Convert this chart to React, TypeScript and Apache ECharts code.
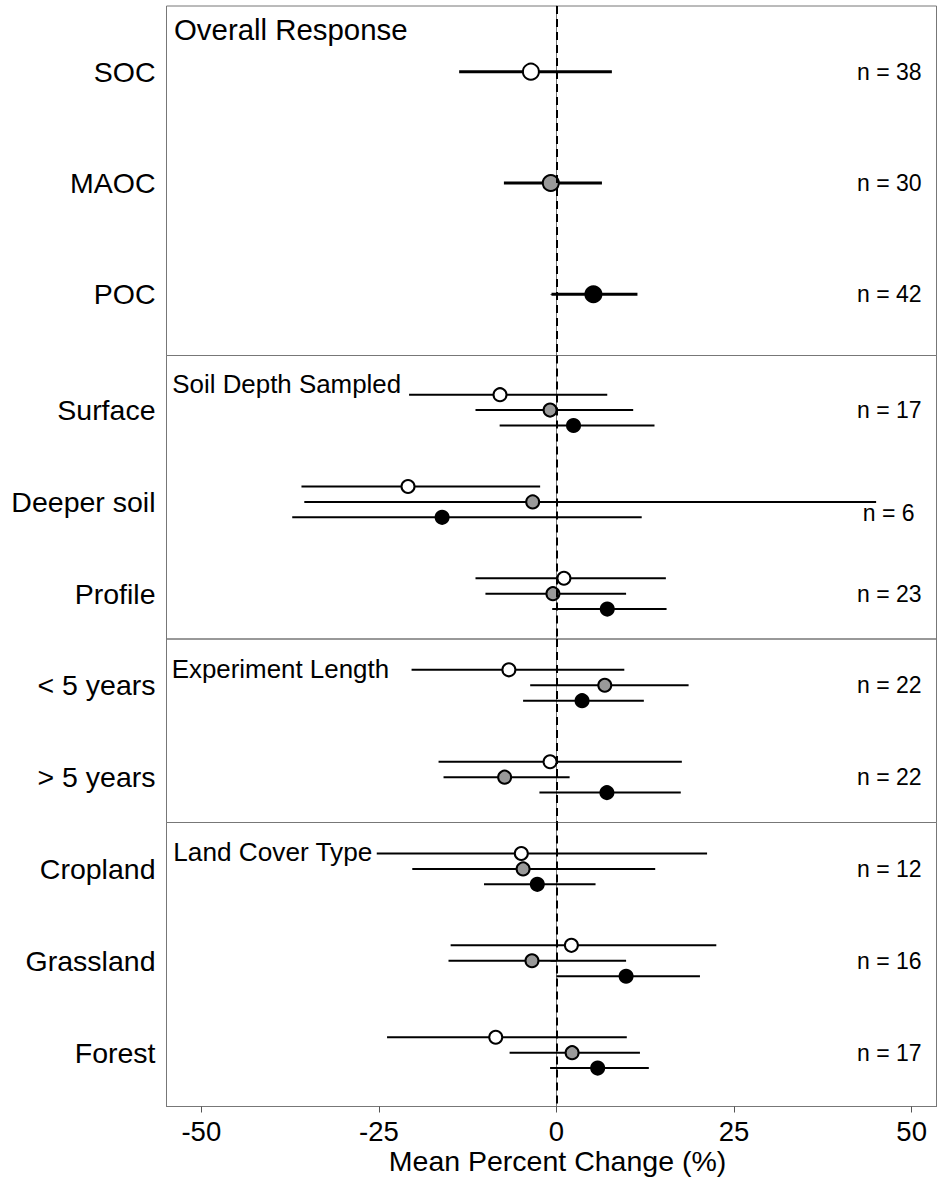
import React, { useEffect, useRef } from "react";
import * as echarts from "echarts";

// ---------- data ----------
const overallCats = ["SOC", "MAOC", "POC"];
const overallMean = [-3.6, -0.8, 5.2];
const overallLo = [-13.7, -7.4, -0.7];
const overallHi = [7.8, 6.4, 11.4];
const overallN = [38, 30, 42];

const depthCats = ["Surface", "Deeper soil", "Profile"];
const depthSOCMean = [-7.95, -20.9, 1.05];
const depthSOCLo = [-20.75, -35.9, -11.4];
const depthSOCHi = [7.15, -2.3, 15.4];
const depthMAOCMean = [-0.9, -3.35, -0.5];
const depthMAOCLo = [-11.4, -35.5, -10.0];
const depthMAOCHi = [10.8, 45.0, 9.8];
const depthPOCMean = [2.4, -16.1, 7.15];
const depthPOCLo = [-8.0, -37.2, -0.6];
const depthPOCHi = [13.8, 12.0, 15.5];
const depthN = [17, 6, 23];

const lengthCats = ["< 5 years", "> 5 years"];
const lengthSOCMean = [-6.7, -0.9];
const lengthSOCLo = [-20.4, -16.6];
const lengthSOCHi = [9.55, 17.65];
const lengthMAOCMean = [6.8, -7.3];
const lengthMAOCLo = [-3.7, -15.9];
const lengthMAOCHi = [18.6, 1.85];
const lengthPOCMean = [3.6, 7.1];
const lengthPOCLo = [-4.7, -2.4];
const lengthPOCHi = [12.3, 17.5];
const lengthN = [22, 22];

const coverCats = ["Cropland", "Grassland", "Forest"];
const coverSOCMean = [-4.95, 2.1, -8.55];
const coverSOCLo = [-25.3, -14.9, -23.85];
const coverSOCHi = [21.2, 22.5, 9.9];
const coverMAOCMean = [-4.7, -3.45, 2.2];
const coverMAOCLo = [-20.3, -15.2, -6.6];
const coverMAOCHi = [13.9, 9.8, 11.75];
const coverPOCMean = [-2.7, 9.8, 5.8];
const coverPOCLo = [-10.2, 0.0, -0.9];
const coverPOCHi = [5.5, 20.2, 13.0];
const coverN = [12, 16, 17];

const xTicks = [-50, -25, 0, 25, 50];
const panelTitles = ["Overall Response", "Soil Depth Sampled", "Experiment Length", "Land Cover Type"];

// ---------- style ----------
const FONT = "'Liberation Sans', Arial, sans-serif";
const FILL = { SOC: "#ffffff", MAOC: "#999999", POC: "#000000" };
const X_MIN = -54.9;
const X_MAX = 53.5;
const N_X = 51.4;
const DODGE = 0.168;

const grids = [
  { top: 6, height: 349.5, ymin: 0.41, ymax: 3.55 },
  { top: 355.5, height: 283.5, ymin: 0.405, ymax: 3.494 },
  { top: 639, height: 183.5, ymin: 0.497, ymax: 2.493 },
  { top: 822.5, height: 284, ymin: 0.495, ymax: 3.586 },
];

type Group = { key: "SOC" | "MAOC" | "POC"; mean: number[]; lo: number[]; hi: number[]; offset: number };

const panels: { cats: string[]; n: number[]; groups: Group[]; lw: number; size: number }[] = [
  { cats: overallCats, n: overallN, lw: 3, size: 16, groups: [] },
  {
    cats: depthCats,
    n: depthN,
    lw: 2,
    size: 13,
    groups: [
      { key: "SOC", mean: depthSOCMean, lo: depthSOCLo, hi: depthSOCHi, offset: -DODGE },
      { key: "MAOC", mean: depthMAOCMean, lo: depthMAOCLo, hi: depthMAOCHi, offset: 0 },
      { key: "POC", mean: depthPOCMean, lo: depthPOCLo, hi: depthPOCHi, offset: DODGE },
    ],
  },
  {
    cats: lengthCats,
    n: lengthN,
    lw: 2,
    size: 13,
    groups: [
      { key: "SOC", mean: lengthSOCMean, lo: lengthSOCLo, hi: lengthSOCHi, offset: -DODGE },
      { key: "MAOC", mean: lengthMAOCMean, lo: lengthMAOCLo, hi: lengthMAOCHi, offset: 0 },
      { key: "POC", mean: lengthPOCMean, lo: lengthPOCLo, hi: lengthPOCHi, offset: DODGE },
    ],
  },
  {
    cats: coverCats,
    n: coverN,
    lw: 2,
    size: 13,
    groups: [
      { key: "SOC", mean: coverSOCMean, lo: coverSOCLo, hi: coverSOCHi, offset: -DODGE },
      { key: "MAOC", mean: coverMAOCMean, lo: coverMAOCLo, hi: coverMAOCHi, offset: 0 },
      { key: "POC", mean: coverPOCMean, lo: coverPOCLo, hi: coverPOCHi, offset: DODGE },
    ],
  },
];

function buildOption() {
  const grid: any[] = [];
  const xAxis: any[] = [];
  const yAxis: any[] = [];
  const series: any[] = [];

  grids.forEach((g, p) => {
    grid.push({
      left: 166.5,
      right: 0.5,
      top: g.top,
      height: g.height,
      show: true,
      borderColor: "#777",
      borderWidth: 1,
      backgroundColor: "transparent",
    });
    const last = p === grids.length - 1;
    xAxis.push({
      type: "value",
      gridIndex: p,
      min: X_MIN,
      max: X_MAX,
      show: last,
      splitLine: { show: false },
      axisLine: { show: true, lineStyle: { color: "#777", width: 1 } },
      axisTick: { show: true, customValues: xTicks, length: 6, lineStyle: { color: "#555" } },
      axisLabel: {
        show: true,
        customValues: xTicks,
        fontSize: 27.5,
        fontFamily: FONT,
        color: "#000",
        margin: 11,
      },
      name: last ? "Mean Percent Change (%)" : "",
      nameLocation: "middle",
      nameGap: 40,
      nameTextStyle: { fontSize: 28.5, fontFamily: FONT, color: "#000", padding: [0, 0, 0, 12] },
    });
    const cats = panels[p].cats;
    const idx = cats.map((_, i) => i + 1);
    yAxis.push({
      type: "value",
      gridIndex: p,
      inverse: true,
      min: g.ymin,
      max: g.ymax,
      splitLine: { show: false },
      axisLine: { show: true, lineStyle: { color: "#777", width: 1 } },
      axisTick: { show: true, customValues: idx, length: 6, lineStyle: { color: "#555" } },
      axisLabel: {
        show: true,
        customValues: idx,
        formatter: (v: number) => cats[Math.round(v) - 1] ?? "",
        fontSize: 28.5,
        fontFamily: FONT,
        color: "#000",
        margin: 11,
      },
    });

    const panel = panels[p];
    const rows: { lo: number; hi: number; y: number; mean: number; key: string }[] = [];
    if (p === 0) {
      overallCats.forEach((c, i) => {
        rows.push({ lo: overallLo[i], hi: overallHi[i], y: i + 1, mean: overallMean[i], key: c });
      });
    } else {
      panel.groups.forEach((gr) => {
        gr.mean.forEach((m, i) => {
          rows.push({ lo: gr.lo[i], hi: gr.hi[i], y: i + 1 + gr.offset, mean: m, key: gr.key });
        });
      });
    }

    const lw = panel.lw;
    series.push({
      type: "custom",
      xAxisIndex: p,
      yAxisIndex: p,
      z: 3,
      silent: true,
      encode: { x: [0, 1], y: 2 },
      data: rows.map((r) => [r.lo, r.hi, r.y]),
      renderItem: (params: any, api: any) => {
        const a = api.coord([api.value(0), api.value(2)]);
        const b = api.coord([api.value(1), api.value(2)]);
        return {
          type: "line",
          shape: { x1: a[0], y1: a[1], x2: b[0], y2: b[1] },
          style: { stroke: "#000", lineWidth: lw },
        };
      },
    });

    (["SOC", "MAOC", "POC"] as const).forEach((k) => {
      const d = rows.filter((r) => r.key === k).map((r) => [r.mean, r.y]);
      series.push({
        type: "scatter",
        xAxisIndex: p,
        yAxisIndex: p,
        z: 4,
        silent: true,
        symbol: "circle",
        symbolSize: panel.size,
        itemStyle: { color: FILL[k], borderColor: "#000", borderWidth: 2, opacity: 1 },
        data: d,
      });
    });

    series.push({
      type: "scatter",
      xAxisIndex: p,
      yAxisIndex: p,
      z: 5,
      silent: true,
      symbolSize: 0,
      itemStyle: { color: "transparent", opacity: 1 },
      data: panel.n.map((n, i) => {
        const item: any = { value: [N_X, i + 1, n] };
        if (p === 1 && i === 1) {
          item.label = { offset: [-7, 11] };
        }
        return item;
      }),
      label: {
        show: true,
        position: "left",
        distance: 0,
        formatter: (pp: any) => "n = " + pp.value[2],
        fontSize: 23,
        fontFamily: FONT,
        color: "#000",
      },
      markLine: {
        silent: true,
        symbol: ["none", "none"],
        label: { show: false },
        lineStyle: { type: [8, 5], color: "#000", width: 2, opacity: 1 },
        data: [{ xAxis: 0 }],
      },
    });
  });

  const titleSpecs = [
    { x: 174, y: 29.5, size: 29.4 },
    { x: 172.3, y: 383.5, size: 25.9 },
    { x: 171.7, y: 668.5, size: 25.9 },
    { x: 173.3, y: 852, size: 26.2 },
  ];
  const graphic = panelTitles.map((t, i) => ({
    type: "text",
    x: titleSpecs[i].x,
    y: titleSpecs[i].y,
    z: 10,
    style: {
      text: t,
      fontSize: titleSpecs[i].size,
      fontFamily: FONT,
      fill: "#000",
      textAlign: "left",
      textVerticalAlign: "middle",
    },
  }));

  return {
    animation: false,
    backgroundColor: "#ffffff",
    grid,
    xAxis,
    yAxis,
    series,
    graphic,
  };
}

export default function App() {
  const ref = useRef<HTMLDivElement>(null);
  useEffect(() => {
    if (!ref.current) return;
    const chart = echarts.init(ref.current, undefined, { renderer: "svg" });
    chart.setOption(buildOption() as any);
    return () => chart.dispose();
  }, []);
  return (
    <div
      ref={ref}
      style={{ position: "absolute", left: 0, top: 0, width: 937, height: 1180, background: "#fff" }}
    />
  );
}
